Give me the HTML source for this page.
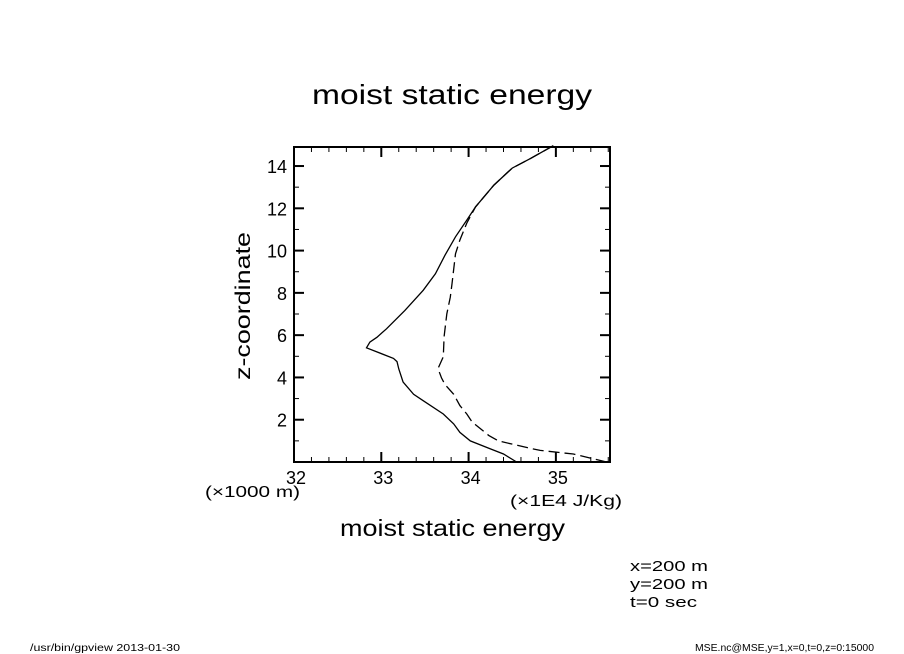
<!DOCTYPE html>
<html><head><meta charset="utf-8"><style>
body{margin:0;background:#fff;}
svg{display:block;font-family:"Liberation Sans",sans-serif;}
</style></head><body>
<svg width="904" height="654" viewBox="0 0 904 654">
<rect width="904" height="654" fill="#fff"/>
<text x="312" y="104" font-size="28" textLength="280" lengthAdjust="spacingAndGlyphs">moist static energy</text>
<g id="plot"></g>
<text x="250" y="306" font-size="21" text-anchor="middle" textLength="148" lengthAdjust="spacingAndGlyphs" transform="rotate(-90 250 306)">z-coordinate</text>
<text x="205" y="497" font-size="16" textLength="95" lengthAdjust="spacingAndGlyphs">(×1000 m)</text>
<text x="510" y="506" font-size="16" textLength="112" lengthAdjust="spacingAndGlyphs">(×1E4 J/Kg)</text>
<text x="340" y="536" font-size="23" textLength="225" lengthAdjust="spacingAndGlyphs">moist static energy</text>
<text x="630" y="571" font-size="15" textLength="78" lengthAdjust="spacingAndGlyphs">x=200 m</text>
<text x="630" y="589" font-size="15" textLength="78" lengthAdjust="spacingAndGlyphs">y=200 m</text>
<text x="630" y="607" font-size="15" textLength="67" lengthAdjust="spacingAndGlyphs">t=0 sec</text>
<text x="30" y="651" font-size="10" textLength="150" lengthAdjust="spacingAndGlyphs">/usr/bin/gpview  2013-01-30</text>
<text x="695" y="651" font-size="10" textLength="179" lengthAdjust="spacingAndGlyphs">MSE.nc@MSE,y=1,x=0,t=0,z=0:15000</text>
</svg>
<script>
const xTicks=[32,33,34,35];
const yTicks=[2,4,6,8,10,12,14];
const solidX=[34.55,34.40,34.25,34.02,33.90,33.83,33.71,33.48,33.37,33.25,33.20,33.18,33.14,32.83,32.87,32.95,33.06,33.27,33.48,33.62,33.73,33.85,33.98,34.08,34.29,34.50,34.71,34.97];
const solidZ=[0.0,0.38,0.62,1.0,1.4,1.8,2.27,2.9,3.2,3.78,4.4,4.75,4.9,5.4,5.67,5.9,6.3,7.17,8.12,8.9,9.78,10.65,11.44,12.07,13.1,13.9,14.36,14.96];
const dashX=[35.58,35.32,35.20,34.82,34.69,34.34,34.23,34.04,33.98,33.90,33.83,33.73,33.69,33.65,33.71,33.72,33.75,33.79,33.81,33.85,33.90,33.98,34.08,34.29,34.50,34.71,34.97];
const dashZ=[0.0,0.26,0.38,0.55,0.66,1.0,1.26,1.89,2.27,2.67,3.2,3.66,3.98,4.42,4.98,5.93,7.0,7.8,8.43,9.85,10.5,11.3,12.07,13.1,13.9,14.36,14.96];
const X0=294,X1=610,Y0=462,Y1=147,xmin=32,xmax=35.62,ymin=0,ymax=14.9;
const sx=v=>X0+(v-xmin)/(xmax-xmin)*(X1-X0);
const sy=v=>Y0-(v-ymin)/(ymax-ymin)*(Y0-Y1);
const NS="http://www.w3.org/2000/svg";
const g=document.getElementById('plot');
function mk(t,a){const e=document.createElementNS(NS,t);for(const k in a)e.setAttribute(k,a[k]);g.appendChild(e);return e;}
const fr=mk('rect',{x:X0,y:Y1,width:X1-X0,height:Y0-Y1,fill:'none',stroke:'#000','stroke-width':2});


for(let v=32;v<=35.61;v+=0.2){const x=sx(v);const major=Math.abs(v-Math.round(v))<1e-6;const L=major?10:5;
 const t1=mk('line',{x1:x,y1:Y0,x2:x,y2:Y0-L,stroke:'#000','stroke-width':major?2:1});
 
 
 const t2=mk('line',{x1:x,y1:Y1,x2:x,y2:Y1+L,stroke:'#000','stroke-width':major?2:1});
 
 }
for(let v=1;v<=14;v++){const y=sy(v);const major=v%2==0;const L=major?10:5;
 const t1=mk('line',{x1:X0,y1:y,x2:X0+L,y2:y,stroke:'#000','stroke-width':major?2:1});
 
 
 const t2=mk('line',{x1:X1,y1:y,x2:X1-L,y2:y,stroke:'#000','stroke-width':major?2:1});
 
 }
xTicks.forEach(v=>{const t=mk('text',{x:sx(v)+2,y:484,'font-size':18,'text-anchor':'middle'});t.textContent=v;
 
 });
yTicks.forEach(v=>{const t=mk('text',{x:287,y:sy(v)+7,'font-size':18,'text-anchor':'end'});t.textContent=v;
 
 });
function pts(xs,zs){return xs.map((v,i)=>sx(v).toFixed(1)+','+sy(zs[i]).toFixed(1)).join(' ');}
const s=mk('polyline',{points:pts(solidX,solidZ),fill:'none',stroke:'#000','stroke-width':1.3});


const d=mk('polyline',{points:pts(dashX,dashZ),fill:'none',stroke:'#000','stroke-width':1.3,'stroke-dasharray':'11 5'});


</script>
</body></html>
